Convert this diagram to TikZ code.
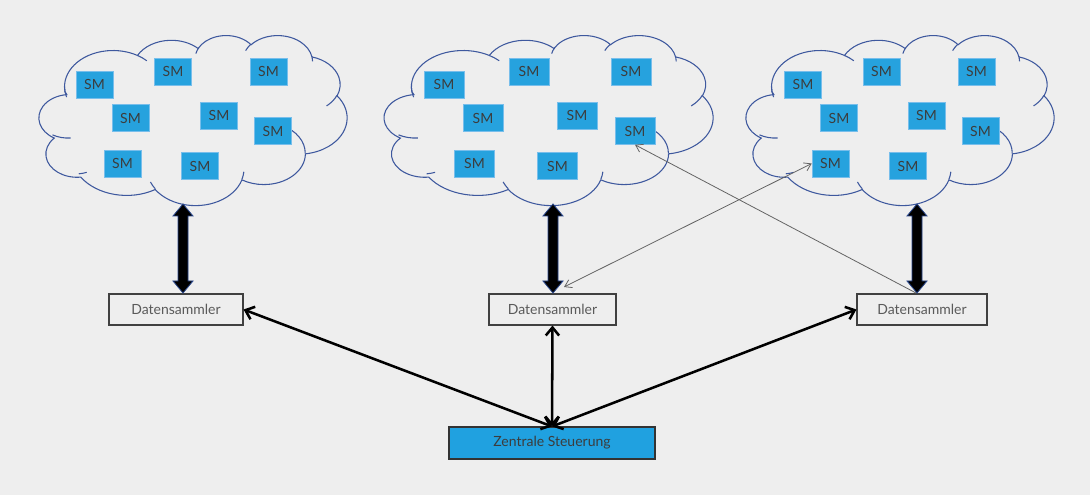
\documentclass[tikz,border=0pt]{standalone}
\usepackage{fontspec}
\setmainfont{Lato}
\usetikzlibrary{arrows.meta}
\definecolor{bg}{RGB}{238,238,238}
\definecolor{cloudc}{RGB}{62,88,158}
\definecolor{smfill}{RGB}{38,162,222}
\definecolor{smedge}{RGB}{120,190,235}
\definecolor{zsfill}{RGB}{32,161,224}
\definecolor{txt}{RGB}{60,60,60}
\definecolor{dstxt}{RGB}{90,90,90}
\definecolor{arrowedge}{RGB}{40,70,140}
\definecolor{thinc}{RGB}{100,100,100}

% visual (DrawingML) angle -> parametric ellipse angle
\newcommand\defarc[5]{%
  \pgfmathsetmacro\clA{(#4)+mod(atan2((#2)*sin(#4),(#3)*cos(#4))-(#4)+3780,360)-180}%
  \pgfmathsetmacro\clT{(#4)+(#5)}%
  \pgfmathsetmacro\clB{(\clT)+mod(atan2((#2)*sin(\clT),(#3)*cos(\clT))-(\clT)+3780,360)-180}%
  \expandafter\xdef\csname kS#1\endcsname{\clA}%
  \expandafter\xdef\csname kE#1\endcsname{\clB}%
}
\defarc{a}{6.753}{9.190}{-190.4875}{123.7805}
\defarc{b}{5.333}{7.267}{-144.1024}{89.9452}
\defarc{c}{4.365}{5.945}{-145.8079}{99.7230}
\defarc{d}{4.857}{6.595}{-130.9861}{117.2417}
\defarc{e}{5.333}{7.273}{-78.7089}{109.0269}
\defarc{f}{6.775}{9.220}{-46.2673}{130.2690}
\defarc{g}{5.785}{7.867}{0.6250}{114.0333}
\defarc{h}{6.752}{9.215}{22.4516}{115.1726}
\defarc{i}{7.720}{10.543}{66.2426}{71.1637}
\defarc{j}{4.360}{5.918}{-274.9421}{146.7415}
\defarc{k}{4.345}{5.945}{-246.8285}{152.5318}
\defarc{l}{4.345}{5.945}{86.7420}{26.4295}
\defarc{m}{4.360}{5.918}{73.6105}{11.4475}
\defarc{n}{6.752}{9.215}{137.6242}{14.0811}
\defarc{o}{6.752}{9.215}{6.4533}{15.9984}
\defarc{p}{5.785}{7.867}{-70.2924}{70.9174}
\defarc{q}{5.333}{7.273}{30.3180}{27.7515}
\defarc{r}{4.857}{6.595}{-13.7443}{14.8589}
\defarc{s}{4.857}{6.595}{-149.1815}{18.1954}
\defarc{t}{4.365}{5.945}{-163.4943}{19.5046}
\defarc{u}{6.753}{9.190}{-66.7070}{12.3194}
\defarc{v}{6.753}{9.190}{157.1535}{22.8821}

\newcommand\cloudshape{%
  \draw[cloudline] (3.900,14.370)
    arc[x radius=6.753, y radius=9.190, start angle=\kSa, end angle=\kEa]
    arc[x radius=5.333, y radius=7.267, start angle=\kSb, end angle=\kEb]
    arc[x radius=4.365, y radius=5.945, start angle=\kSc, end angle=\kEc]
    arc[x radius=4.857, y radius=6.595, start angle=\kSd, end angle=\kEd]
    arc[x radius=5.333, y radius=7.273, start angle=\kSe, end angle=\kEe]
    arc[x radius=6.775, y radius=9.220, start angle=\kSf, end angle=\kEf]
    arc[x radius=5.785, y radius=7.867, start angle=\kSg, end angle=\kEg]
    arc[x radius=6.752, y radius=9.215, start angle=\kSh, end angle=\kEh]
    arc[x radius=7.720, y radius=10.543, start angle=\kSi, end angle=\kEi]
    arc[x radius=4.360, y radius=5.918, start angle=\kSj, end angle=\kEj]
    arc[x radius=4.345, y radius=5.945, start angle=\kSk, end angle=\kEk]
    -- cycle;
  \draw[cloudline]
    (4.693,26.177) arc[x radius=4.345, y radius=5.945, start angle=\kSl, end angle=\kEl]
    (6.928,34.899) arc[x radius=4.360, y radius=5.918, start angle=\kSm, end angle=\kEm]
    (16.478,39.090) arc[x radius=6.752, y radius=9.215, start angle=\kSn, end angle=\kEn]
    (28.827,34.751) arc[x radius=6.752, y radius=9.215, start angle=\kSo, end angle=\kEo]
    (34.129,22.954) arc[x radius=5.785, y radius=7.867, start angle=\kSp, end angle=\kEp]
    (41.798,15.354) arc[x radius=5.333, y radius=7.273, start angle=\kSq, end angle=\kEq]
    (38.324,5.426) arc[x radius=4.857, y radius=6.595, start angle=\kSr, end angle=\kEr]
    (29.078,3.952) arc[x radius=4.857, y radius=6.595, start angle=\kSs, end angle=\kEs]
    (22.141,4.720) arc[x radius=4.365, y radius=5.945, start angle=\kSt, end angle=\kEt]
    (14.000,5.192) arc[x radius=6.753, y radius=9.190, start angle=\kSu, end angle=\kEu]
    (4.127,15.789) arc[x radius=6.753, y radius=9.190, start angle=\kSv, end angle=\kEv];
}
\newcommand\blockarrow[1]{%
  \filldraw[blockarr] (#1) -- ++(10,12) -- ++(-5,0) -- ++(0,65) -- ++(5,0)
    -- ++(-10,12) -- ++(-10,-12) -- ++(5,0) -- ++(0,-65) -- ++(-5,0) -- cycle;}

\begin{document}
\begin{tikzpicture}[x=0.75pt,y=-0.75pt,
  cloudline/.style={draw=cloudc, line width=0.8pt},
  smbox/.style={draw=smedge, line width=0.4pt, fill=smfill, minimum width=27.75pt,
    minimum height=20.25pt, inner sep=0pt, font=\fontsize{10.5}{12}\selectfont, text=txt},
  smwide/.style={smbox, minimum width=30pt},
  dsbox/.style={draw=black!75, line width=0.8pt, fill=bg, minimum height=23.25pt,
    inner sep=0pt, font=\fontsize{10.5}{12}\selectfont, text=dstxt},
  zsbox/.style={draw=black!80, line width=0.8pt, fill=zsfill, minimum width=154.5pt,
    minimum height=24pt, inner sep=0pt, font=\fontsize{10.5}{12}\selectfont, text=txt},
  bigarrow/.style={line width=1.9pt, {Straight Barb[length=6pt,width=10pt]}-{Straight Barb[length=6pt,width=10pt]}},
  thinarrow/.style={draw=thinc, line width=0.6pt},
  thintip/.style={Straight Barb[length=5pt,width=6.5pt]},
  blockarr/.style={fill=black, draw=arrowedge, line width=0.6pt, line join=miter}
]
\fill[bg] (0,0) rectangle (1090,495);
\useasboundingbox (0,0) rectangle (1090,495);

% clouds
\begin{scope}[shift={(37,35)}, x=5.3819pt, y=-2.9514pt]
  \cloudshape
\end{scope}
\begin{scope}[shift={(382,35)}, x=5.7465pt, y=-2.9514pt]
  \cloudshape
\end{scope}
\begin{scope}[shift={(744,35)}, x=5.3819pt, y=-2.9514pt]
  \cloudshape
\end{scope}

% smart meters, cloud 1
\node[smbox] (s1a) at (94.5,84.5) {SM};
\node[smbox] (s1b) at (173,71.5) {SM};
\node[smbox] (s1c) at (268.5,71.5) {SM};
\node[smbox] (s1d) at (130.5,118) {SM};
\node[smbox] (s1e) at (219,115.5) {SM};
\node[smbox] (s1f) at (273,131) {SM};
\node[smbox] (s1g) at (122.5,163.5) {SM};
\node[smbox] (s1h) at (200,166) {SM};
% cloud 2
\node[smwide] (s2a) at (444,84.5) {SM};
\node[smwide] (s2b) at (529,71.5) {SM};
\node[smwide] (s2c) at (631,71.5) {SM};
\node[smwide] (s2d) at (483,118) {SM};
\node[smwide] (s2e) at (577,115.5) {SM};
\node[smwide] (s2f) at (635,131) {SM};
\node[smwide] (s2g) at (474.5,163.5) {SM};
\node[smwide] (s2h) at (557.5,166) {SM};
% cloud 3
\node[smbox] (s3a) at (803,84.5) {SM};
\node[smbox] (s3b) at (881.5,71.5) {SM};
\node[smbox] (s3c) at (976.5,71.5) {SM};
\node[smbox] (s3d) at (839,118) {SM};
\node[smbox] (s3e) at (926.5,115.5) {SM};
\node[smbox] (s3f) at (980.5,131) {SM};
\node[smbox] (s3g) at (830.5,163.5) {SM};
\node[smbox] (s3h) at (908,166) {SM};

% data collectors
\node[dsbox, minimum width=100.5pt] (ds1) at (176,309.5) {Datensammler};
\node[dsbox, minimum width=95.25pt] (ds2) at (552.5,309.5) {Datensammler};
\node[dsbox, minimum width=97.5pt] (ds3) at (922,309.5) {Datensammler};

% central control
\node[zsbox] (zs) at (552,443) {Zentrale Steuerung};

% block arrows cloud <-> collector
\coordinate (cb1) at (183,204);
\coordinate (cb2) at (553,204);
\coordinate (cb3) at (917,204);
\blockarrow{cb1}
\blockarrow{cb2}
\blockarrow{cb3}

% thin cross links
\coordinate (ta) at (916,293);
\coordinate (tb) at (564,287);
\draw[thinarrow, -{Straight Barb[length=5pt,width=6.5pt]}] (ta) -- (s2f.south);
\draw[thinarrow, {Straight Barb[length=5pt,width=6.5pt]}-{Straight Barb[length=5pt,width=6.5pt]}] (tb) -- (s3g.west);

% collectors <-> central control
\draw[bigarrow] (ds1.east) -- (zs.north);
\draw[bigarrow] (ds2.south) -- (zs.north);
\draw[bigarrow] (ds3.west) -- (zs.north);
\end{tikzpicture}
\end{document}
